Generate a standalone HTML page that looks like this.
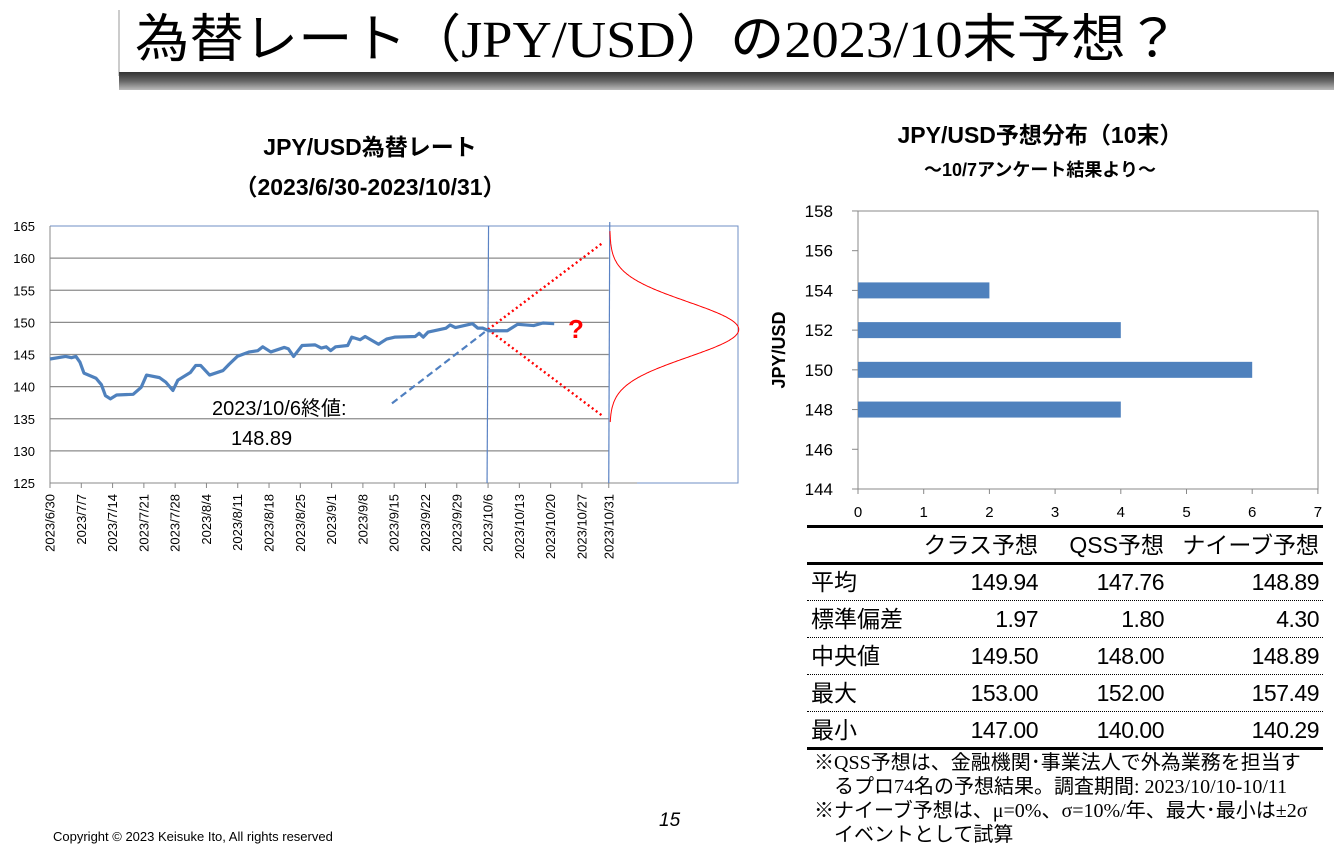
<!DOCTYPE html>
<html><head><meta charset="utf-8">
<style>
body{margin:0;width:1334px;height:849px;background:#fff;position:relative;overflow:hidden;font-family:"Liberation Sans","Noto Sans CJK JP",sans-serif;}
.abs{position:absolute;white-space:nowrap;}
</style></head>
<body>
<div class="abs" style="left:118px;top:10px;width:2px;height:66px;background:#ccc"></div>
<div class="abs" style="left:119px;top:72px;width:1215px;height:18px;background:linear-gradient(#333,#666 50%,#bbb)"></div>
<svg class="abs" style="left:0;top:0" width="1334" height="80">
<text x="135" y="57" font-size="52" textLength="1045" lengthAdjust="spacingAndGlyphs" font-family="'Liberation Serif','Noto Sans CJK JP',serif" fill="#000">為替レート（JPY/USD）の2023/10末予想？</text>
</svg>

<div class="abs" style="left:0;width:740px;top:133px;text-align:center;font-weight:bold;font-size:23px;line-height:28px;">JPY/USD為替レート<br><span style="position:relative;top:12px">（2023/6/30-2023/10/31）</span></div>

<svg id="lc" class="abs" style="left:0;top:0" width="760" height="600"></svg>

<div class="abs" style="left:760px;width:560px;top:116px;text-align:center;font-weight:bold;font-size:23px;">JPY/USD予想分布（10末）</div>
<div class="abs" style="left:760px;width:560px;top:156px;text-align:center;font-weight:bold;font-size:18px;">～10/7アンケート結果より～</div>
<svg id="bc" class="abs" style="left:0;top:0" width="1334" height="530"></svg>

<div class="abs" style="left:807px;top:525px;width:516px;height:3px;background:#000"></div>
<div class="abs" style="left:807px;top:562px;width:516px;height:3px;background:#000"></div>
<div class="abs" style="left:807px;top:747px;width:516px;height:3px;background:#000"></div>
<div id="tbl"></div>

<div class="abs" style="left:814px;top:751px;font-size:20px;line-height:24px;font-family:'Liberation Serif','Noto Sans CJK JP',serif">※QSS予想は、金融機関･事業法人で外為業務を担当す<br>&nbsp;&nbsp;&nbsp;&nbsp;るプロ74名の予想結果。調査期間: 2023/10/10-10/11</div>
<div class="abs" style="left:814px;top:799px;font-size:20px;line-height:24px;font-family:'Liberation Serif','Noto Sans CJK JP',serif">※ナイーブ予想は、μ=0%、σ=10%/年、最大･最小は±2σ<br>&nbsp;&nbsp;&nbsp;&nbsp;イベントとして試算</div>

<div class="abs" style="left:53px;top:829px;font-size:13px">Copyright © 2023 Keisuke Ito, All rights reserved</div>
<div class="abs" style="left:659px;top:810px;font-size:19px;font-style:italic">15</div>

<script>
// ---------- line chart data ----------
const lineDays=[0,3.5,4.8,5.8,6.7,7.6,10.3,11.5,12.4,13.5,14.9,18.6,20.4,21.6,24.5,25.9,27.5,28.6,31.4,32.6,33.7,35.7,38.7,40.1,41.9,44.6,46.5,47.6,49.4,52.4,53.3,54.5,56.4,59.3,60.7,61.8,62.8,63.9,66.6,67.5,69.4,70.5,73.5,75.3,77.1,81.7,82.6,83.5,84.6,88.6,89.5,90.7,94.5,95.7,96.8,98.2,102.3,104.6,108.2,110.3,112.8];
const lineRates=[144.3,144.7,144.5,144.7,143.8,142.1,141.3,140.3,138.6,138.1,138.7,138.8,139.9,141.8,141.4,140.7,139.4,141.0,142.2,143.3,143.3,141.8,142.5,143.5,144.7,145.4,145.6,146.2,145.4,146.1,145.9,144.7,146.4,146.5,146.0,146.2,145.6,146.2,146.4,147.7,147.3,147.8,146.6,147.4,147.7,147.8,148.3,147.7,148.5,149.1,149.6,149.2,149.8,149.1,149.1,148.7,148.7,149.7,149.5,149.9,149.8];
const yTicks=[125,130,135,140,145,150,155,160,165];
const xTickDays=[0,7,14,21,28,35,42,49,56,63,70,77,84,91,98,105,112,119,125];
const xTickLabels=["2023/6/30","2023/7/7","2023/7/14","2023/7/21","2023/7/28","2023/8/4","2023/8/11","2023/8/18","2023/8/25","2023/9/1","2023/9/8","2023/9/15","2023/9/22","2023/9/29","2023/10/6","2023/10/13","2023/10/20","2023/10/27","2023/10/31"];
const anchorDay=98, anchorRate=148.89;
const labelDay=76.5, labelRate=137.4;
const bandEndDay=123.5, bandUpper=162.3, bandLower=135.5;
const distMean=148.89, distSd=4.3, distFrom=134.5, distTo=164.2;
const endDay=125;

const NS="http://www.w3.org/2000/svg";
function mk(p,t,a){const e=document.createElementNS(NS,t);for(const k in a)e.setAttribute(k,a[k]);p.appendChild(e);return e;}
const lc=document.getElementById('lc');
const X=d=>50+d*4.47, Y=v=>226+(165-v)*6.425;

let fr=mk(lc,'path',{d:`M50 226H738V483H637`,fill:'none',stroke:'#6f8fc4','stroke-width':1});

yTicks.forEach(v=>{
 if(v<165&&v>125){let g=mk(lc,'line',{x1:50,x2:X(endDay),y1:Y(v),y2:Y(v),stroke:'#8c8c8c','stroke-width':1.3});
 }
 let t=mk(lc,'text',{x:35,y:Y(v)+5,'text-anchor':'end','font-size':13});t.textContent=v;
 
});
mk(lc,'line',{x1:50,x2:50,y1:226,y2:483,stroke:'#888'});
mk(lc,'line',{x1:50,x2:637,y1:483,y2:483,stroke:'#888'});
xTickDays.forEach((d,i)=>{
 mk(lc,'line',{x1:X(d),x2:X(d),y1:483,y2:488,stroke:'#888'});
 let t=mk(lc,'text',{transform:`translate(${X(d)+4.5},494) rotate(-90)`,'text-anchor':'end','font-size':13});t.textContent=xTickLabels[i];
 
});
let v1=mk(lc,'line',{x1:X(anchorDay)+0.5,x2:X(anchorDay)-1,y1:226,y2:483,stroke:'#5b83c4','stroke-width':1.2});

let v2=mk(lc,'line',{x1:X(endDay)+1,x2:X(endDay),y1:222,y2:483,stroke:'#5b83c4','stroke-width':1.2});

let dl=mk(lc,'line',{x1:X(labelDay),y1:Y(labelRate),x2:X(anchorDay),y2:Y(anchorRate),stroke:'#4f7fc0','stroke-width':2.2,'stroke-dasharray':'7,4'});

[bandUpper,bandLower].forEach(b=>{let r=mk(lc,'line',{x1:X(anchorDay),y1:Y(anchorRate),x2:X(bandEndDay),y2:Y(b),stroke:'#f00','stroke-width':2.4,'stroke-dasharray':'2,3'});
});
let p=mk(lc,'polyline',{points:lineDays.map((d,i)=>X(d)+','+Y(lineRates[i])).join(' '),fill:'none',stroke:'#4f81bd','stroke-width':3.2,'stroke-linejoin':'round'});

let pts=[];const base=X(endDay)+1,amp=129;
for(let v=distFrom;v<=distTo;v+=0.1){pts.push((base+amp*Math.exp(-Math.pow(v-distMean,2)/(2*distSd*distSd))).toFixed(1)+','+Y(v).toFixed(1));}
let dc=mk(lc,'polyline',{points:pts.join(' '),fill:'none',stroke:'#f00','stroke-width':1});

let q=mk(lc,'text',{x:568,y:338,'font-size':26,'font-weight':'bold',fill:'#f00'});q.textContent='?';

let a1=mk(lc,'text',{x:212,y:415,'font-size':20});a1.textContent='2023/10/6終値:';

let a2=mk(lc,'text',{x:231,y:445,'font-size':20});a2.textContent='148.89';


// ---------- bar chart data ----------
const barLevels=[154,152,150,148];
const barCounts=[2,4,6,4];
const bYTicks=[144,146,148,150,152,154,156,158];
const bXTicks=[0,1,2,3,4,5,6,7];
const bc=document.getElementById('bc');
const BX=c=>858+c*65.7, BY=v=>489-(v-144)*19.86;
let bf=mk(bc,'rect',{x:858,y:211,width:460,height:278,fill:'none',stroke:'#888'});

bYTicks.forEach(v=>{mk(bc,'line',{x1:852,x2:858,y1:BY(v),y2:BY(v),stroke:'#888'});
 let t=mk(bc,'text',{x:833,y:BY(v)+6,'text-anchor':'end','font-size':17});t.textContent=v;
 });
bXTicks.forEach(c=>{mk(bc,'line',{x1:BX(c),x2:BX(c),y1:489,y2:494,stroke:'#888'});
 let t=mk(bc,'text',{x:BX(c),y:517,'text-anchor':'middle','font-size':15});t.textContent=c;
 });
barLevels.forEach((lv,i)=>{let r=mk(bc,'rect',{x:858,y:BY(lv)-8,width:BX(barCounts[i])-858,height:16,fill:'#4f81bd'});
 });
let yl=mk(bc,'text',{transform:'translate(785,350) rotate(-90)','text-anchor':'middle','font-size':18,'font-weight':'bold'});yl.textContent='JPY/USD';


// ---------- table ----------
const headers=["クラス予想","QSS予想","ナイーブ予想"];
const rowNames=["平均","標準偏差","中央値","最大","最小"];
const cells=[["149.94","147.76","148.89"],["1.97","1.80","4.30"],["149.50","148.00","148.89"],["153.00","152.00","157.49"],["147.00","140.00","140.29"]];
const tbl=document.getElementById('tbl');
const colR=[1038,1164,1319];
function div(txt,css,name){const d=document.createElement('div');d.className='abs';d.style.cssText=css;d.textContent=txt;
 
 tbl.appendChild(d);}
headers.forEach((h,i)=>div(h,`right:${1334-colR[i]}px;top:531px;font-size:23px;line-height:28px;`,'table-header'));
rowNames.forEach((n,r)=>{const top=568+r*37;
 div(n,`left:811px;top:${top}px;font-size:23px;line-height:28px;`,'table-row-label');
 cells[r].forEach((c,i)=>div(c,`right:${1334-colR[i]}px;top:${top}px;font-size:23px;line-height:28px;letter-spacing:-0.5px;`,'table-cell'));
 if(r<4){const l=document.createElement('div');l.className='abs';l.style.cssText=`left:807px;top:${600+r*37}px;width:516px;border-top:1.5px dotted #000;`;
 
 tbl.appendChild(l);}
});
</script>
</body></html>
